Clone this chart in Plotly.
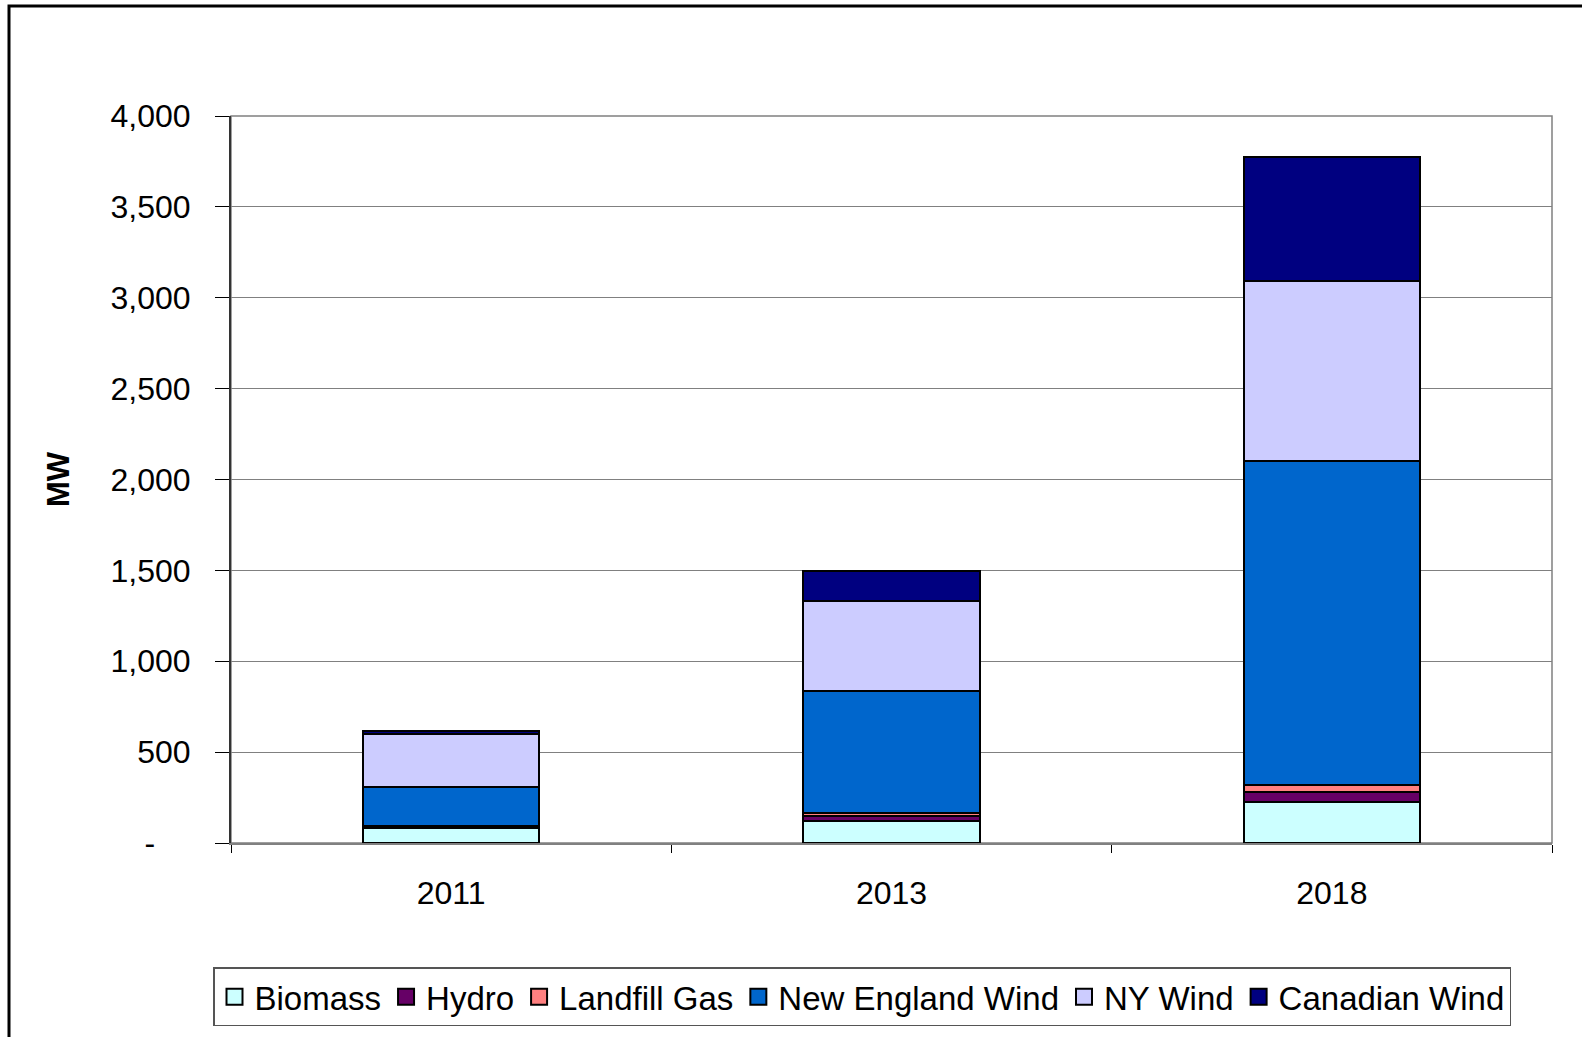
import plotly.graph_objects as go

years = ["2011", "2013", "2018"]
biomass = [82, 120, 225]
hydro = [10, 30, 55]
landfill_gas = [0, 15, 40]
ne_wind = [215, 672, 1784]
ny_wind = [295, 493, 986]
canadian_wind = [12, 165, 687]

series = [
    ("Biomass", biomass, "#CCFFFF"),
    ("Hydro", hydro, "#660066"),
    ("Landfill Gas", landfill_gas, "#FF8080"),
    ("New England Wind", ne_wind, "#0066CC"),
    ("NY Wind", ny_wind, "#CCCCFF"),
    ("Canadian Wind", canadian_wind, "#000080"),
]

y_tickvals = [0, 500, 1000, 1500, 2000, 2500, 3000, 3500, 4000]
y_ticktext = ["-\u00a0\u00a0\u00a0\u00a0", "500", "1,000", "1,500", "2,000",
              "2,500", "3,000", "3,500", "4,000"]

fig = go.Figure()
for name, vals, color in series:
    fig.add_trace(go.Bar(
        x=years, y=vals, name=name, showlegend=False, legendgroup=name,
        marker=dict(color=color, line=dict(color="black", width=2)),
    ))
# legend proxies with larger square swatches
for name, vals, color in series:
    fig.add_trace(go.Scatter(
        x=[None], y=[None], mode="markers", name=name, legendgroup=name,
        marker=dict(symbol="square", size=16, color=color,
                    line=dict(color="black", width=2)),
    ))

L, R, T, B = 231, 30, 116, 193.5
W, H = 1582, 1037
pw = W - L - R
ph = H - T - B

fig.update_layout(
    width=W, height=H,
    barmode="stack", bargap=0.6,
    plot_bgcolor="white", paper_bgcolor="white",
    margin=dict(l=L, r=R, t=T, b=B, autoexpand=False),
    font=dict(family="Liberation Sans, Arial, sans-serif", size=32, color="black"),
    showlegend=True,
    legend=dict(
        orientation="h", x=(862 - L) / pw, xanchor="center",
        y=(H - B - 968) / ph, yanchor="top",
        bordercolor="#555555", borderwidth=1.5,
        font=dict(size=33), itemclick=False, tracegroupgap=0,
        traceorder="normal",
    ),
    xaxis=dict(
        type="category", tickson="boundaries", ticks="outside", ticklen=8,
        tickcolor="black", showline=True, linecolor="#808080", linewidth=2,
        showgrid=False, ticklabelstandoff=21, tickfont=dict(size=32),
    ),
    yaxis=dict(
        range=[0, 4000], tickvals=y_tickvals, ticktext=y_ticktext,
        ticks="outside", ticklen=14, tickcolor="black",
        showline=True, linecolor="#333333", linewidth=2,
        showgrid=True, gridcolor="#808080", gridwidth=1,
        ticklabelstandoff=18, tickfont=dict(size=32),
        title=dict(text="<b>MW</b>", font=dict(size=31), standoff=32),
        zeroline=False,
    ),
    shapes=[
        dict(type="rect", xref="paper", yref="paper", x0=0, x1=1, y0=0, y1=1,
             line=dict(color="#808080", width=1.5), layer="below"),
        dict(type="rect", xref="paper", yref="paper",
             x0=(9 - L) / pw, x1=(W + 20 - L) / pw,
             y0=(H - B - (H + 20)) / ph, y1=(H - B - 6) / ph,
             line=dict(color="black", width=3)),
    ],
)

fig.write_html("out.html")
